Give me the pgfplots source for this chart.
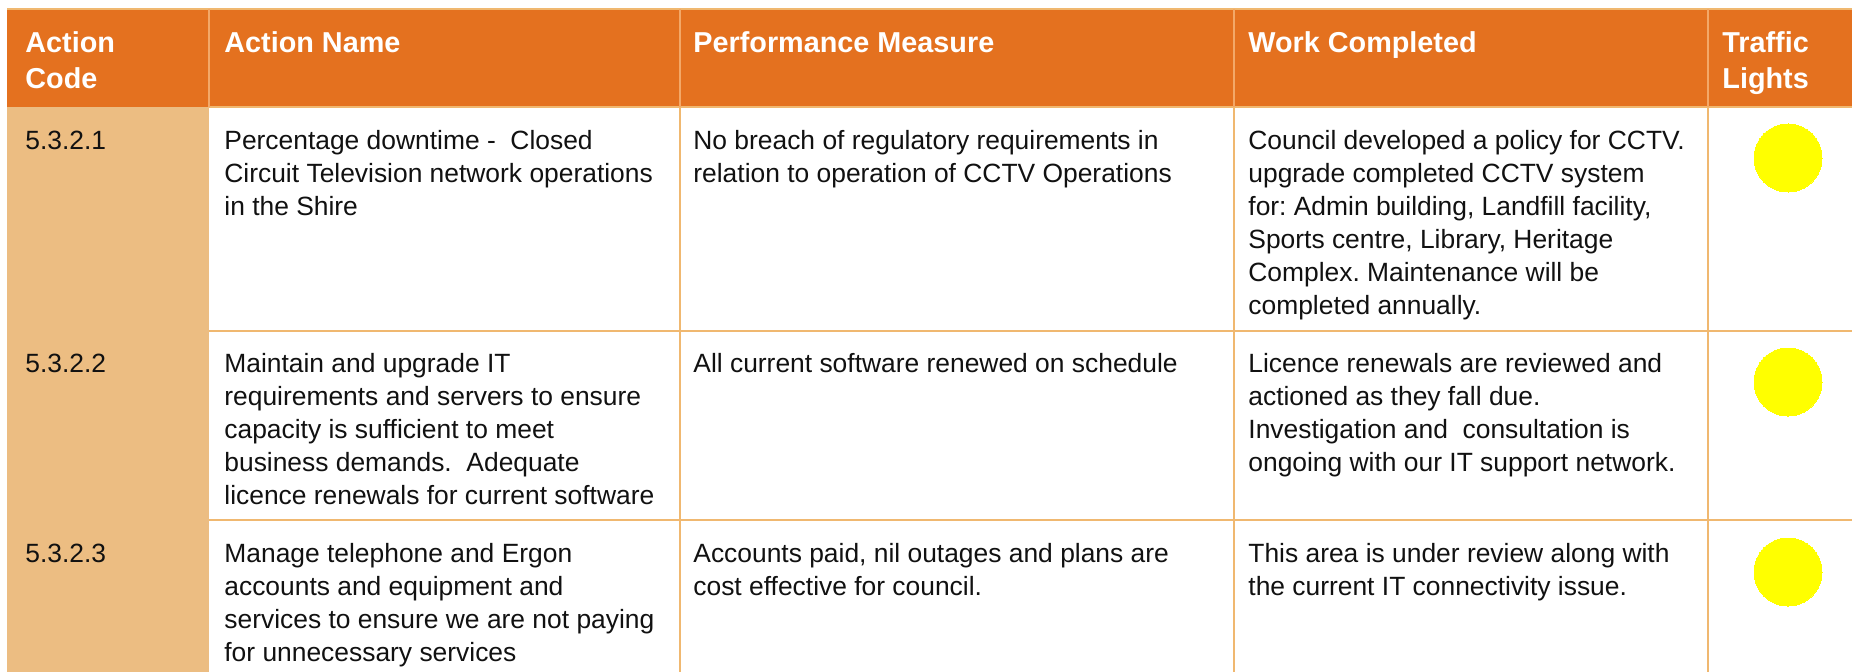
\documentclass[border=0pt]{standalone}
\usepackage{fontspec}
\setmainfont{Liberation Sans}
\usepackage{pgfplots}
\pgfplotsset{compat=1.18}
\definecolor{hdr}{HTML}{E4711F}
\definecolor{codefill}{HTML}{ECBD82}
\definecolor{gridc}{HTML}{F0B870}
\definecolor{hsep}{HTML}{F3A868}
\definecolor{tl}{HTML}{FFFF00}
\definecolor{txt}{HTML}{111111}
\frenchspacing
\newcommand\bodyf{\fontsize{13.2}{16}\selectfont}
\newcommand\hdf{\fontsize{14.4}{17}\selectfont\bfseries}
\newcommand\BL[3]{\node[anchor=base west, inner sep=0pt, font=\bodyf, text=txt] at (axis cs:#1,#2) {#3};}
\newcommand\HL[3]{\node[anchor=base west, inner sep=0pt, font=\hdf, text=white] at (axis cs:#1,#2) {#3};}
\begin{document}
\begin{tikzpicture}
\begin{axis}[x=0.5pt, y=0.5pt, y dir=reverse,
  xmin=0, xmax=1852, ymin=0, ymax=672,
  hide axis, scale only axis, clip=true,
  anchor=north west, at={(0,0)}]
  % backgrounds
  \fill[white] (axis cs:0,0) rectangle (axis cs:1852,672);
  \fill[hdr] (axis cs:7,9) rectangle (axis cs:1852,107);
  \fill[codefill] (axis cs:7,107) rectangle (axis cs:209,672);
  % grid lines
  \draw[gridc, line width=0.7pt] (axis cs:7,9) -- (axis cs:1852,9);
  \draw[gridc, line width=0.7pt] (axis cs:209,107) -- (axis cs:1852,107);
  \draw[gridc, line width=0.7pt] (axis cs:209,331) -- (axis cs:1852,331);
  \draw[gridc, line width=0.7pt] (axis cs:209,520) -- (axis cs:1852,520);
  \draw[gridc, line width=0.7pt] (axis cs:680,107) -- (axis cs:680,672);
  \draw[gridc, line width=0.7pt] (axis cs:1234,107) -- (axis cs:1234,672);
  \draw[gridc, line width=0.7pt] (axis cs:1708,107) -- (axis cs:1708,672);
  \draw[hsep, line width=0.7pt] (axis cs:209,9) -- (axis cs:209,107);
  \draw[hsep, line width=0.7pt] (axis cs:680,9) -- (axis cs:680,107);
  \draw[hsep, line width=0.7pt] (axis cs:1234,9) -- (axis cs:1234,107);
  \draw[hsep, line width=0.7pt] (axis cs:1708,9) -- (axis cs:1708,107);
  % traffic lights
  \addplot[only marks, mark=*, color=tl, mark size=17pt, mark options={draw=tl, fill=tl, line width=0pt}]
    coordinates {(1788,158) (1788,382) (1788,572)};
  % header
  \HL{25}{53}{Action}
  \HL{25}{89}{Code}
  \HL{224}{53}{Action Name}
  \HL{693}{53}{Performance Measure}
  \HL{1248}{53}{Work Completed}
  \HL{1722}{53}{Traffic}
  \HL{1722}{89}{Lights}
  % column 1
  \BL{25}{149}{5.3.2.1}
  \BL{25}{372}{5.3.2.2}
  \BL{25}{562}{5.3.2.3}
  % column 2
  \BL{224}{149}{Percentage downtime - \ Closed}
  \BL{224}{182}{Circuit Television network operations}
  \BL{224}{215}{in the Shire}
  \BL{224}{372}{Maintain and upgrade IT}
  \BL{224}{405}{requirements and servers to ensure}
  \BL{224}{438}{capacity is sufficient to meet}
  \BL{224}{471}{business demands. \ Adequate}
  \BL{224}{504}{licence renewals for current software}
  \BL{224}{562}{Manage telephone and Ergon}
  \BL{224}{595}{accounts and equipment and}
  \BL{224}{628}{services to ensure we are not paying}
  \BL{224}{661}{for unnecessary services}
  % column 3
  \BL{693}{149}{No breach of regulatory requirements in}
  \BL{693}{182}{relation to operation of CCTV Operations}
  \BL{693}{372}{All current software renewed on schedule}
  \BL{693}{562}{Accounts paid, nil outages and plans are}
  \BL{693}{595}{cost effective for council.}
  % column 4
  \BL{1248}{149}{Council developed a policy for CCTV.}
  \BL{1248}{182}{upgrade completed CCTV system}
  \BL{1248}{215}{for: Admin building, Landfill facility,}
  \BL{1248}{248}{Sports centre, Library, Heritage}
  \BL{1248}{281}{Complex. Maintenance will be}
  \BL{1248}{314}{completed annually.}
  \BL{1248}{372}{Licence renewals are reviewed and}
  \BL{1248}{405}{actioned as they fall due.}
  \BL{1248}{438}{Investigation and \ consultation is}
  \BL{1248}{471}{ongoing with our IT support network.}
  \BL{1248}{562}{This area is under review along with}
  \BL{1248}{595}{the current IT connectivity issue.}
\end{axis}
\end{tikzpicture}
\end{document}
